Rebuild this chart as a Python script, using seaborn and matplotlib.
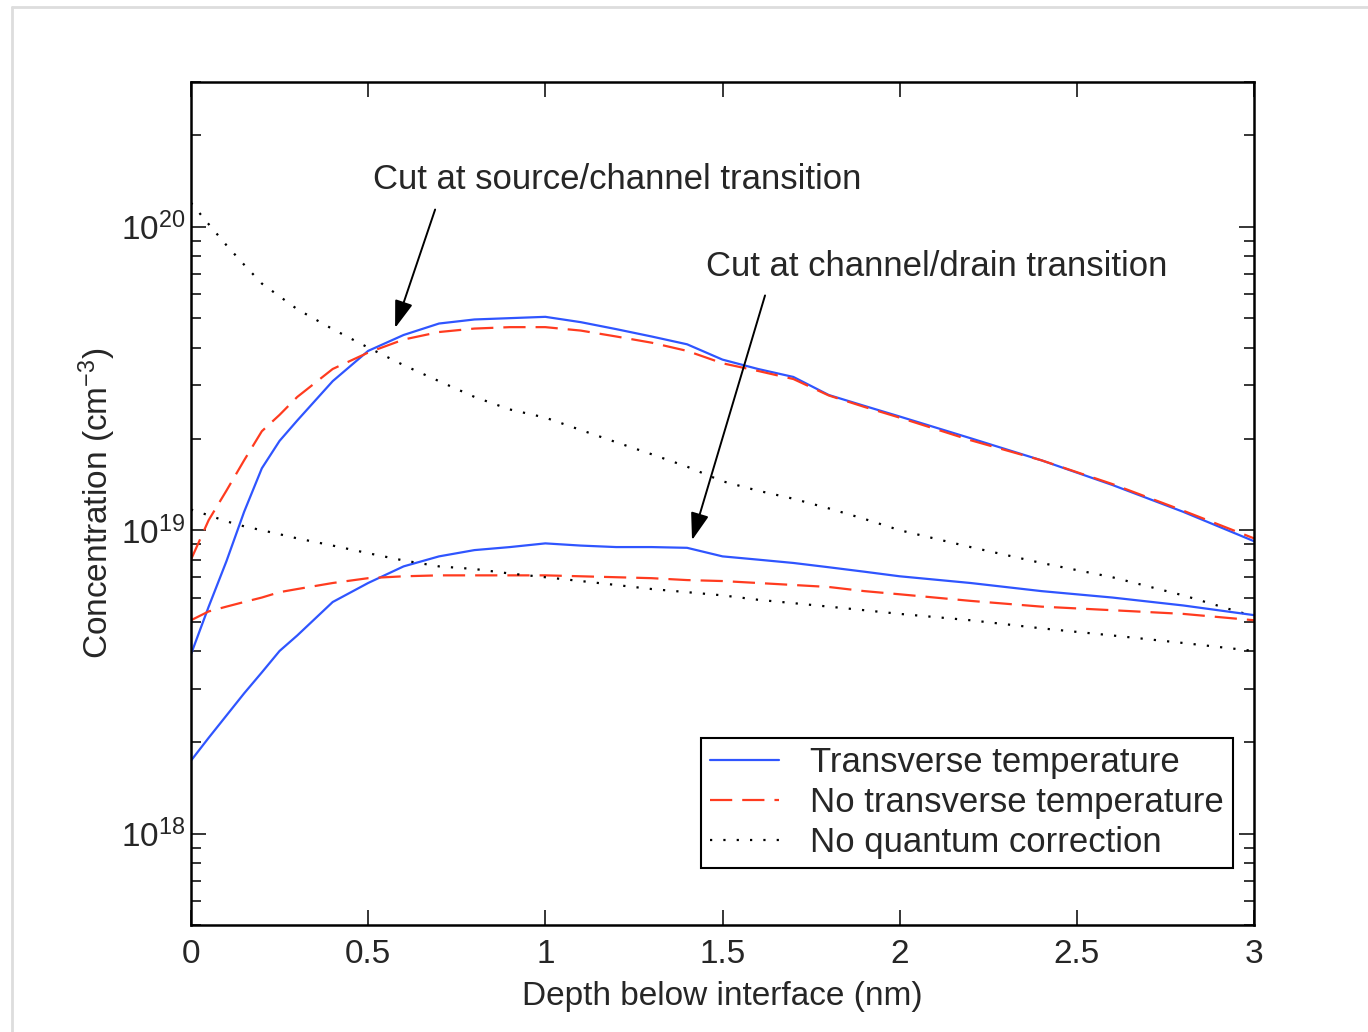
import numpy as np
import pandas as pd
import matplotlib
matplotlib.use('Agg')
import matplotlib.pyplot as plt
import seaborn as sns
from matplotlib.lines import Line2D
from matplotlib.ticker import LogLocator, FixedLocator, NullFormatter, FuncFormatter

# depth below interface (nm)
depth = [0, 0.05, 0.1, 0.15, 0.2, 0.25, 0.3, 0.4, 0.5, 0.6, 0.7, 0.8, 0.9, 1.0,
         1.1, 1.2, 1.3, 1.4, 1.5, 1.6, 1.7, 1.8, 1.9, 2.0, 2.2, 2.4, 2.6, 2.8, 3.0]

# cut at source/channel transition
src_transverse = [3.9e18, 5.6e18, 7.9e18, 1.15e19, 1.6e19, 1.97e19, 2.3e19, 3.1e19, 3.9e19, 4.4e19,
                  4.8e19, 4.95e19, 5.0e19, 5.05e19, 4.85e19, 4.6e19, 4.35e19, 4.1e19, 3.65e19, 3.4e19,
                  3.2e19, 2.79e19, 2.57e19, 2.37e19, 2.01e19, 1.7e19, 1.41e19, 1.15e19, 9.2e18]
src_no_transverse = [8.0e18, 1.08e19, 1.35e19, 1.7e19, 2.12e19, 2.4e19, 2.75e19, 3.4e19, 3.85e19, 4.25e19,
                     4.5e19, 4.62e19, 4.67e19, 4.67e19, 4.55e19, 4.35e19, 4.15e19, 3.9e19, 3.55e19, 3.35e19,
                     3.15e19, 2.78e19, 2.55e19, 2.35e19, 1.98e19, 1.7e19, 1.42e19, 1.16e19, 9.4e18]
src_classical = [1.2e20, 1.02e20, 8.7e19, 7.5e19, 6.5e19, 5.9e19, 5.35e19, 4.6e19, 4.0e19, 3.5e19,
                 3.1e19, 2.75e19, 2.5e19, 2.35e19, 2.14e19, 1.95e19, 1.78e19, 1.62e19, 1.45e19, 1.35e19,
                 1.27e19, 1.18e19, 1.09e19, 1.0e19, 8.8e18, 7.8e18, 7.0e18, 6.1e18, 5.2e18]

# cut at channel/drain transition
drn_transverse = [1.74e18, 2.07e18, 2.45e18, 2.9e18, 3.4e18, 4.0e18, 4.5e18, 5.8e18, 6.7e18, 7.6e18,
                  8.2e18, 8.6e18, 8.8e18, 9.05e18, 8.9e18, 8.8e18, 8.8e18, 8.75e18, 8.2e18, 8.0e18,
                  7.8e18, 7.55e18, 7.3e18, 7.05e18, 6.7e18, 6.3e18, 6.0e18, 5.65e18, 5.25e18]
drn_no_transverse = [5.05e18, 5.4e18, 5.6e18, 5.8e18, 6.0e18, 6.25e18, 6.4e18, 6.7e18, 6.95e18, 7.05e18,
                     7.1e18, 7.1e18, 7.1e18, 7.1e18, 7.05e18, 7.0e18, 6.95e18, 6.85e18, 6.8e18, 6.7e18,
                     6.6e18, 6.5e18, 6.3e18, 6.15e18, 5.85e18, 5.6e18, 5.45e18, 5.3e18, 5.05e18]
drn_classical = [1.17e19, 1.12e19, 1.07e19, 1.03e19, 1.0e19, 9.7e18, 9.4e18, 8.9e18, 8.4e18, 7.95e18,
                 7.6e18, 7.45e18, 7.2e18, 7.0e18, 6.8e18, 6.6e18, 6.4e18, 6.25e18, 6.1e18, 5.9e18,
                 5.75e18, 5.6e18, 5.45e18, 5.3e18, 5.05e18, 4.75e18, 4.5e18, 4.25e18, 4.0e18]

legend_labels = ['Transverse temperature', 'No transverse temperature', 'No quantum correction']
x_ticks = [0, 0.5, 1, 1.5, 2, 2.5, 3]
x_ticklabels = ['0', '0.5', '1', '1.5', '2', '2.5', '3']

sns.set_style('ticks')
plt.rcParams['font.family'] = ['Liberation Sans', 'DejaVu Sans']
plt.rcParams['mathtext.fontset'] = 'custom'
plt.rcParams['mathtext.rm'] = 'Liberation Sans'
plt.rcParams['mathtext.it'] = 'Liberation Sans'

blue = '#2f55ff'
red = '#ff3b1f'
solid = '-'
dashed = (0, (10, 4.5))
dotted = (0, (1, 5))

fig = plt.figure(figsize=(13.68, 10.32), dpi=100)
ax = fig.add_axes([0.1396, 0.1037, 0.7771, 0.8168])

series = [
    (src_transverse, blue, solid),
    (src_no_transverse, red, dashed),
    (src_classical, 'black', dotted),
    (drn_transverse, blue, solid),
    (drn_no_transverse, red, dashed),
    (drn_classical, 'black', dotted),
]
for vals, col, ls in series:
    sns.lineplot(x=depth, y=vals, ax=ax, color=col, linestyle=ls, linewidth=1.6, legend=False)

ax.set_yscale('log')
ax.set_xlim(0, 3)
ax.set_ylim(5e17, 3e20)

ax.xaxis.set_major_locator(FixedLocator(x_ticks))
ax.set_xticklabels(x_ticklabels)
ax.yaxis.set_major_locator(LogLocator(base=10, numticks=10))
ax.yaxis.set_minor_locator(LogLocator(base=10, subs=np.arange(2, 10), numticks=20))
ax.yaxis.set_minor_formatter(NullFormatter())
ax.yaxis.set_major_formatter(FuncFormatter(lambda v, p: r'$10^{%d}$' % int(round(np.log10(v)))))

ax.tick_params(which='both', direction='in', top=True, right=True, width=1.3, labelsize=24)
ax.tick_params(axis='x', pad=10)
ax.tick_params(axis='y', pad=4)
ax.tick_params(which='major', length=11)
ax.tick_params(which='minor', length=7)
for s in ax.spines.values():
    s.set_linewidth(1.8)
    s.set_color('black')

ax.set_xlabel('Depth below interface (nm)', fontsize=24, labelpad=8)
ax.set_ylabel('Concentration (cm$^{-3}$)', fontsize=24)
ax.yaxis.set_label_coords(-0.069, 0.5)

arrow = dict(arrowstyle='-|>,head_length=0.6,head_width=0.2', color='black', lw=1.4,
             mutation_scale=28, shrinkA=0, shrinkB=0)
ax.annotate('', xy=(0.576, 4.64e19), xytext=(0.689, 1.14e20), arrowprops=arrow)
ax.annotate('', xy=(1.414, 9.27e18), xytext=(1.62, 5.94e19), arrowprops=arrow)
ax.text(0.514, 1.43e20, 'Cut at source/channel transition', fontsize=25, va='center', ha='left')
ax.text(1.454, 7.42e19, 'Cut at channel/drain transition', fontsize=25, va='center', ha='left')

handles = [Line2D([], [], color=blue, linestyle=solid, lw=1.6),
           Line2D([], [], color=red, linestyle=dashed, lw=1.6),
           Line2D([], [], color='black', linestyle=dotted, lw=1.6)]
leg = ax.legend(handles, legend_labels, loc='lower right', bbox_to_anchor=(0.980, 0.0676),
                fontsize=25, frameon=True, fancybox=False, framealpha=1, edgecolor='black',
                handlelength=2.0, handletextpad=0.9, labelspacing=0.2, borderpad=0.25,
                borderaxespad=0)
leg.get_frame().set_linewidth(1.5)

# light frame of the screenshot
fig.add_artist(Line2D([12 / 1368, 12 / 1368], [0, 1 - 7 / 1032], transform=fig.transFigure,
                      color='#dddddd', lw=2))
fig.add_artist(Line2D([12 / 1368, 1], [1 - 7 / 1032, 1 - 7 / 1032], transform=fig.transFigure,
                      color='#dddddd', lw=2))

fig.savefig('out.png', dpi=100)
